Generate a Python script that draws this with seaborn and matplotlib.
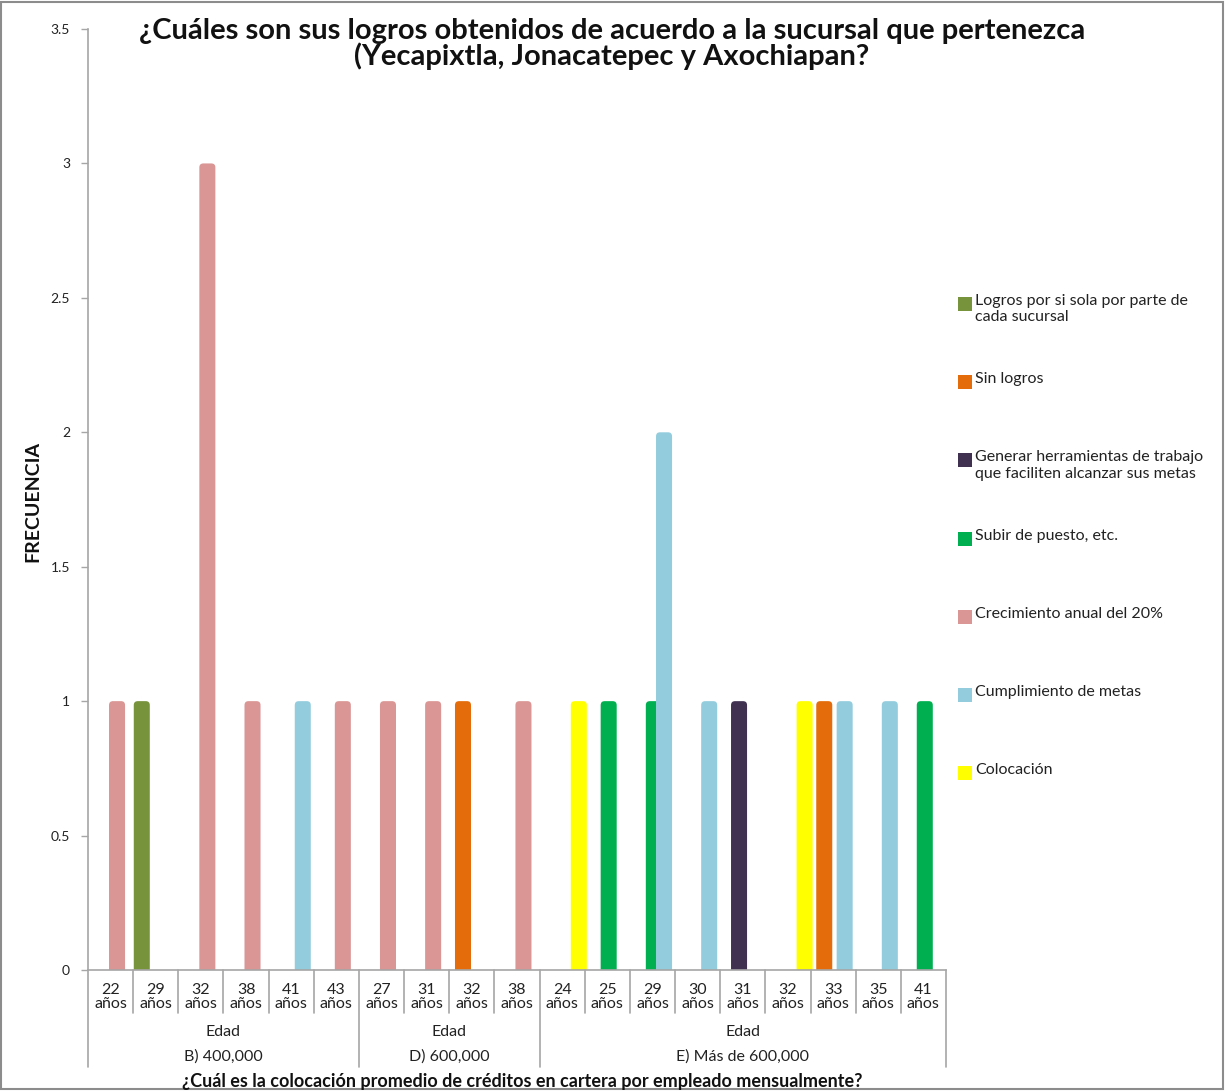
import numpy as np
import pandas as pd
import matplotlib
matplotlib.use("Agg")
import matplotlib.pyplot as plt
import seaborn as sns
from matplotlib.patches import Rectangle, FancyBboxPatch

# series (legend order) and colours
series = [
    "Logros por si sola por parte de cada sucursal",
    "Sin logros",
    "Generar herramientas de trabajo que faciliten alcanzar sus metas",
    "Subir de puesto, etc.",
    "Crecimiento anual del 20%",
    "Cumplimiento de metas",
    "Colocación",
]
legend_labels = [
    "Logros por si sola por parte de\ncada sucursal",
    "Sin logros",
    "Generar herramientas de trabajo\nque faciliten alcanzar sus metas",
    "Subir de puesto, etc.",
    "Crecimiento anual del 20%",
    "Cumplimiento de metas",
    "Colocación",
]
colors = ["#77933C", "#E46C0A", "#403151", "#00B050", "#D99694", "#93CDDD", "#FFFF00"]

# x categories: group -> ages
groups = ["B) 400,000", "D) 600,000", "E) Más de 600,000"]
ages_b = [22, 29, 32, 38, 41, 43]
ages_d = [27, 31, 32, 38]
ages_e = [24, 25, 29, 30, 31, 32, 33, 35, 41]

# frequencies per series, one value per age category (B, D, E in order)
logros = [0, 1, 0, 0, 0, 0,  0, 0, 0, 0,  0, 0, 0, 0, 0, 0, 0, 0, 0]
sin_logros = [0, 0, 0, 0, 0, 0,  0, 0, 1, 0,  0, 0, 0, 0, 0, 0, 1, 0, 0]
generar = [0, 0, 0, 0, 0, 0,  0, 0, 0, 0,  0, 0, 0, 0, 1, 0, 0, 0, 0]
subir = [0, 0, 0, 0, 0, 0,  0, 0, 0, 0,  0, 1, 1, 0, 0, 0, 0, 0, 1]
crecimiento = [1, 0, 3, 1, 0, 1,  1, 1, 0, 1,  0, 0, 0, 0, 0, 0, 0, 0, 0]
cumplimiento = [0, 0, 0, 0, 1, 0,  0, 0, 0, 0,  0, 0, 2, 1, 0, 0, 1, 1, 0]
colocacion = [0, 0, 0, 0, 0, 0,  0, 0, 0, 0,  1, 0, 0, 0, 0, 1, 0, 0, 0]

values = [logros, sin_logros, generar, subir, crecimiento, cumplimiento, colocacion]

# build long table
group_ages = [ages_b, ages_d, ages_e]
cat_ids, cat_labels = [], []
for g, ages in zip(groups, group_ages):
    for a in ages:
        cat_ids.append(f"{g}|{a}")
        cat_labels.append(f"{a}\naños")

rows = []
for s, vals in zip(series, values):
    for cid, v in zip(cat_ids, vals):
        if v > 0:
            rows.append({"cat": cid, "serie": s, "freq": v})
df = pd.DataFrame(rows)

sns.set_style("white")
plt.rcParams["font.family"] = ["Lato", "DejaVu Sans"]

W, H = 1225, 1092
fig = plt.figure(figsize=(W / 100, H / 100), dpi=100, facecolor="white")
ax_l, ax_r, ax_t, ax_b = 88, 946, 29, 970
ax = fig.add_axes([ax_l / W, 1 - ax_b / H, (ax_r - ax_l) / W, (ax_b - ax_t) / H])

n_ser = len(series)
step = 0.113
sns.barplot(data=df, x="cat", y="freq", hue="serie", order=cat_ids,
            hue_order=series, palette=colors, saturation=1, width=step * n_ser,
            errorbar=None, legend=False, linewidth=0, ax=ax)

ax.set_xlim(-0.5, len(cat_ids) - 0.5)
ax.set_ylim(0, 3.5)

# Excel style overlapping bars (wider than their dodge slot) with rounded tops
bar_w = 0.355
shift = 0.03
px_x = (len(cat_ids)) / (ax_r - ax_l)      # data units per pixel, x
px_y = 3.5 / (ax_b - ax_t)                 # data units per pixel, y
r = 4 * px_x
aspect = px_y / px_x
for p in list(ax.patches):
    c = p.get_x() + p.get_width() / 2
    h = p.get_height()
    x0 = c + shift - bar_w / 2
    fb = FancyBboxPatch((x0 + r, -r * aspect * 2), bar_w - 2 * r, h + r * aspect * 2 - r * aspect,
                        boxstyle=f"round,pad={r},rounding_size={r}",
                        mutation_aspect=aspect, facecolor=p.get_facecolor(),
                        edgecolor="none", zorder=p.get_zorder())
    p.remove()
    ax.add_patch(fb)

axis_gray = "#A6A6A6"
ax.set_yticks(np.arange(0, 3.51, 0.5))
ax.set_yticklabels(["0", "0.5", "1", "1.5", "2", "2.5", "3", "3.5"])
ax.tick_params(axis="y", length=5, width=1, color=axis_gray, labelsize=10,
               labelcolor="#222222", pad=8, left=True)
ax.set_xticks(range(len(cat_ids)))
ax.set_xticklabels([])
ax.tick_params(axis="x", length=0)
ax.set_xlabel("")
ax.set_ylabel("")
for side in ["top", "right"]:
    ax.spines[side].set_visible(False)
for side in ["left", "bottom"]:
    ax.spines[side].set_color(axis_gray)
    ax.spines[side].set_linewidth(1.2)
    ax.spines[side].set_zorder(5)

# multi-level category axis
ph = ax_b - ax_t
xt = ax.get_xaxis_transform()
short = -(1013 - ax_b) / ph
long = -(1067 - ax_b) / ph
bounds_long = {0, len(ages_b), len(ages_b) + len(ages_d), len(cat_ids)}
for b in range(len(cat_ids) + 1):
    depth = long if b in bounds_long else short
    ax.plot([b - 0.5, b - 0.5], [0, depth], transform=xt, clip_on=False,
            color=axis_gray, lw=1.2)

for i, lab in enumerate(cat_labels):
    ax.text(i, -(997 - ax_b) / ph, lab, transform=xt, ha="center", va="center",
            fontsize=11.5, color="#222222", linespacing=1.0)

start = 0
for g, ages in zip(groups, group_ages):
    mid = start + (len(ages) - 1) / 2
    ax.text(mid, -(1032 - ax_b) / ph, "Edad", transform=xt, ha="center",
            va="center", fontsize=11.5, color="#222222")
    ax.text(mid, -(1057 - ax_b) / ph, g, transform=xt, ha="center",
            va="center", fontsize=11.5, color="#222222")
    start += len(ages)

fig.text((ax_l + ax_r) / 2 / W + 0.004, 1 - 1081 / H,
         "¿Cuál es la colocación promedio de créditos en cartera por empleado mensualmente?",
         ha="center", va="center", fontsize=13, fontweight="bold", color="#111111")

fig.text(33 / W, 1 - 502 / H, "FRECUENCIA", rotation=90, ha="center", va="center",
         fontsize=14, fontweight="bold", color="#111111")

fig.text(612 / W, 1 - 44 / H,
         "¿Cuáles son sus logros obtenidos de acuerdo a la sucursal que pertenezca\n(Yecapixtla, Jonacatepec y Axochiapan?",
         ha="center", va="center", fontsize=21, fontweight="bold", color="#111111",
         linespacing=0.95)

# legend, evenly spaced like the spreadsheet one
for i, (lab, col) in enumerate(zip(legend_labels, colors)):
    yc = 304 + 78.2 * i
    fig.patches.append(Rectangle((958 / W, 1 - (yc + 7) / H), 14 / W, 14 / H,
                                 transform=fig.transFigure, facecolor=col,
                                 edgecolor="none"))
    fig.text(975 / W, 1 - (yc - 10) / H, lab, ha="left", va="top",
             fontsize=11.5, color="#222222", linespacing=1.2)

# outer chart border
fig.patches.append(Rectangle((1 / W, 3 / H), (W - 3) / W, (H - 5) / H,
                             transform=fig.transFigure, fill=False,
                             edgecolor="#8C8C8C", lw=1.5))

fig.savefig("out.png", dpi=100, facecolor="white")
